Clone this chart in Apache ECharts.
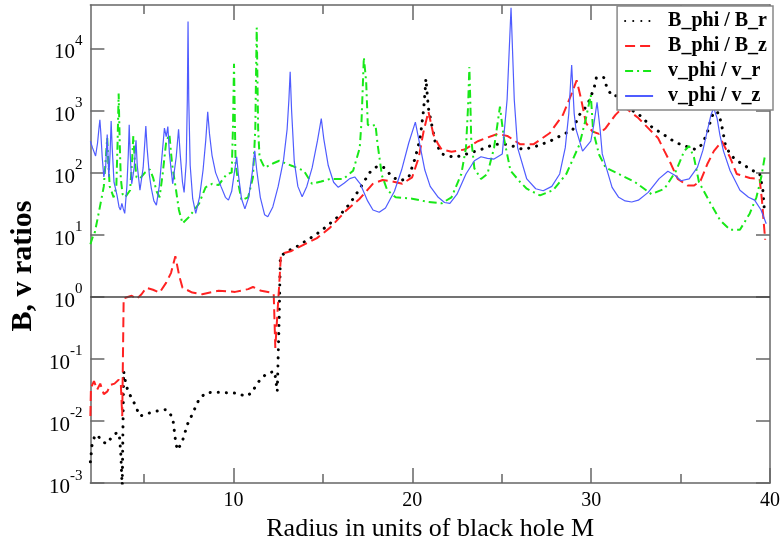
<!DOCTYPE html>
<html>
<head>
<meta charset="utf-8">
<script src="https://cdn.jsdelivr.net/npm/echarts@6/dist/echarts.min.js"></script>
<style>
  html, body { margin: 0; padding: 0; background: #fff; }
  #chart { width: 783px; height: 547px; }
</style>
</head>
<body>
<div id="chart"></div>
<script>
// Field ratios against radius (units of black hole M), log scale.
const seriesNames = ['B_phi / B_r', 'B_phi / B_z', 'v_phi / v_r', 'v_phi / v_z'];

const xMajorTicks = [10, 20, 30, 40];
const xMinorTicks = [5, 15, 25, 35];
const yDecades = [1e-3, 1e-2, 1e-1, 1, 10, 100, 1e3, 1e4];

// [radius, ratio]
const bPhiOverBr = [
  [2.0, 0.0022], [2.1, 0.0043], [2.25, 0.0058], [2.4, 0.006], [2.6, 0.0048], [2.9, 0.0043],
  [3.2, 0.0055], [3.5, 0.0066], [3.62, 0.0058], [3.7, 0.003], [3.78, 0.0008], [3.86, 0.063],
  [3.95, 0.045], [4.1, 0.03], [4.4, 0.021], [4.77, 0.012], [5.14, 0.013], [5.5, 0.014],
  [6.0, 0.015], [6.24, 0.0153], [6.45, 0.013], [6.6, 0.0114], [6.69, 0.007], [6.78, 0.0043],
  [6.88, 0.0034], [7.15, 0.0048], [7.43, 0.0089], [7.7, 0.0129], [8.07, 0.0222], [8.44, 0.0283],
  [8.8, 0.029], [9.3, 0.029], [9.72, 0.0283], [10.27, 0.028], [10.64, 0.025], [11.0, 0.028],
  [11.28, 0.038], [11.55, 0.049], [11.92, 0.059], [12.3, 0.063], [12.45, 0.03], [12.5, 0.028],
  [12.56, 0.5], [12.62, 4.5], [13.02, 5.4], [13.57, 6.5], [14.3, 8.8], [14.9, 11.5],
  [15.4, 15.2], [15.95, 20.6], [16.5, 31.5], [17.06, 55], [17.61, 100], [18.06, 128],
  [18.43, 120], [18.89, 84], [19.34, 74], [19.8, 84], [20.17, 175], [20.44, 360],
  [20.63, 1020], [20.72, 2120], [20.76, 3250], [20.9, 1090], [21.27, 320], [21.64, 200],
  [22.37, 175], [23.1, 202], [23.84, 235], [24.57, 285], [25.31, 285], [26.22, 235],
  [26.96, 268], [27.69, 320], [28.42, 410], [28.97, 490], [29.34, 850], [29.79, 1220],
  [30.16, 2270], [30.29, 3380], [30.5, 3500], [30.71, 3380], [30.89, 2300], [31.17, 1700],
  [31.54, 1750], [31.9, 1300], [32.3, 1000], [32.73, 830], [33.46, 520], [33.92, 435],
  [34.47, 340], [34.93, 290], [35.39, 260], [35.85, 235], [36.21, 285], [36.49, 435],
  [36.67, 670], [36.86, 960], [37.13, 910], [37.31, 557], [37.5, 285], [37.77, 196],
  [38.14, 155], [38.51, 136], [38.87, 113], [39.42, 97], [39.6, 52], [39.7, 22]
];

const bPhiOverBz = [
  [2.0, 0.012], [2.03, 0.034], [2.2, 0.044], [2.38, 0.032], [2.55, 0.04], [2.75, 0.027],
  [2.95, 0.03], [3.12, 0.038], [3.35, 0.04], [3.58, 0.046], [3.7, 0.04], [3.78, 0.012],
  [3.86, 0.95], [3.94, 1.01], [4.31, 1.04], [4.58, 0.92], [4.86, 1.1], [5.13, 1.4],
  [5.5, 1.3], [5.87, 1.17], [6.24, 1.69], [6.51, 2.43], [6.75, 4.5], [6.97, 2.16],
  [7.15, 1.4], [7.7, 1.17], [8.25, 1.1], [9.17, 1.25], [10.09, 1.2], [10.82, 1.33],
  [11.09, 1.44], [11.55, 1.25], [12.1, 1.17], [12.25, 1.1], [12.34, 0.15], [12.45, 0.5],
  [12.56, 1.6], [12.65, 4.5], [12.84, 5.06], [13.2, 5.4], [13.94, 6.9], [14.67, 8.8],
  [15.4, 13], [16.32, 24.8], [17.06, 38], [17.79, 66], [18.34, 76], [18.89, 72],
  [19.44, 66], [19.99, 84], [20.36, 175], [20.63, 460], [20.9, 960], [21.18, 410],
  [21.45, 285], [21.64, 235], [22.19, 217], [22.92, 235], [23.66, 320], [24.76, 420],
  [25.31, 390], [26.04, 285], [26.77, 285], [27.69, 435], [28.42, 850], [28.88, 1780],
  [29.19, 3070], [29.43, 1570], [29.71, 630], [30.07, 460], [30.44, 420], [30.81, 520],
  [31.36, 850], [31.81, 1150], [32.1, 1000], [32.64, 755], [33.19, 520], [33.74, 360],
  [34.1, 222], [34.47, 136], [34.84, 79], [35.39, 62], [35.76, 62], [36.12, 74],
  [36.49, 136], [36.86, 222], [37.31, 321], [37.77, 175], [38.14, 95], [38.87, 82],
  [39.42, 79], [39.55, 36], [39.64, 17], [39.73, 8.3]
];

const vPhiOverVr = [
  [2.0, 7], [2.12, 9], [2.25, 11], [2.4, 18], [2.57, 32], [2.75, 60], [2.88, 200],
  [2.94, 360], [3.0, 150], [3.08, 60], [3.3, 40], [3.45, 60], [3.52, 300], [3.58, 1880],
  [3.64, 300], [3.7, 80], [3.8, 45], [3.94, 40], [4.22, 52], [4.33, 150], [4.4, 390],
  [4.48, 160], [4.58, 84], [4.77, 80], [5.05, 100], [5.32, 113], [5.5, 84], [5.7, 50],
  [5.87, 40], [6.05, 100], [6.24, 320], [6.42, 410], [6.5, 220], [6.57, 136], [6.79, 52],
  [6.95, 25], [7.15, 15.2], [7.52, 19.4], [8.07, 31.5], [8.44, 58], [8.8, 66], [9.17, 63],
  [9.63, 95], [9.9, 100], [9.97, 500], [10.03, 5650], [10.08, 600], [10.12, 136],
  [10.3, 60], [10.45, 36], [10.82, 40], [11.09, 84], [11.22, 500], [11.3, 21600],
  [11.38, 500], [11.46, 175], [11.74, 120], [12.2, 140], [12.56, 155], [13.29, 128],
  [13.94, 107], [14.39, 66], [14.9, 72], [15.4, 79], [16.14, 79], [16.69, 107],
  [17.06, 250], [17.16, 670], [17.29, 7200], [17.42, 2900], [17.51, 590], [17.7, 560],
  [17.94, 590], [18.05, 300], [18.3, 90], [18.6, 52], [19.07, 40], [19.99, 38],
  [20.9, 33.6], [21.64, 32], [22.19, 40], [22.74, 95], [23.0, 250], [23.12, 1200],
  [23.19, 5000], [23.26, 900], [23.29, 360], [23.47, 117], [23.84, 79], [24.2, 95],
  [24.57, 250], [24.9, 1150], [25.12, 360], [25.49, 107], [26.04, 70], [26.4, 55],
  [27.14, 43], [27.87, 52], [28.61, 95], [29.34, 280], [29.71, 750], [29.98, 1780],
  [30.11, 470], [30.44, 196], [30.81, 120], [31.54, 95], [32.46, 70], [33.37, 45],
  [34.1, 55], [34.75, 107], [35.2, 222], [35.48, 268], [35.75, 175], [36.03, 70],
  [36.67, 32], [37.22, 17], [37.77, 12], [38.32, 12], [38.87, 22], [39.24, 40],
  [39.51, 84], [39.7, 175]
];

const vPhiOverVz = [
  [2.0, 320], [2.12, 250], [2.29, 185], [2.4, 300], [2.48, 520], [2.53, 710], [2.58, 450],
  [2.66, 180], [2.75, 85], [2.85, 120], [2.94, 410], [2.98, 200], [3.03, 85], [3.1, 200],
  [3.16, 680], [3.22, 250], [3.32, 70], [3.49, 43], [3.6, 28], [3.68, 25], [3.76, 32],
  [3.84, 26], [3.92, 22], [4.04, 60], [4.12, 200], [4.17, 590], [4.22, 220], [4.31, 66],
  [4.45, 120], [4.55, 330], [4.62, 130], [4.77, 52], [4.95, 120], [5.05, 330], [5.1, 560],
  [5.17, 250], [5.3, 90], [5.41, 55], [5.55, 35], [5.69, 30], [5.85, 60], [6.0, 180],
  [6.14, 520], [6.24, 380], [6.33, 550], [6.42, 200], [6.6, 66], [6.8, 180], [6.93, 500],
  [7.02, 200], [7.15, 70], [7.24, 48], [7.36, 150], [7.42, 1500], [7.46, 27000],
  [7.5, 1500], [7.58, 130], [7.72, 38], [7.89, 22], [8.1, 40], [8.3, 110], [8.45, 330],
  [8.56, 950], [8.66, 420], [8.8, 190], [9.0, 100], [9.3, 60], [9.55, 40], [9.72, 36],
  [9.9, 50], [10.05, 100], [10.18, 180], [10.28, 90], [10.45, 38], [10.64, 26],
  [10.85, 40], [11.05, 100], [11.19, 225], [11.3, 110], [11.5, 40], [11.74, 21],
  [11.92, 19.5], [12.2, 28], [12.5, 60], [12.8, 160], [13.0, 500], [13.1, 1500],
  [13.17, 4200], [13.25, 1000], [13.4, 150], [13.6, 60], [13.84, 41], [14.1, 60],
  [14.4, 120], [14.7, 330], [14.91, 740], [15.05, 350], [15.3, 130], [15.6, 70],
  [15.86, 58], [16.2, 68], [16.5, 80], [16.78, 85], [17.1, 65], [17.5, 35], [17.8, 25],
  [18.15, 23], [18.5, 27], [19.0, 50], [19.4, 110], [19.8, 300], [20.17, 650], [20.4, 300],
  [20.7, 110], [21.0, 60], [21.45, 40], [21.8, 33], [22.1, 32], [22.5, 45], [23.0, 95],
  [23.47, 155], [23.84, 180], [24.2, 170], [24.57, 165], [25.03, 200], [25.3, 1500],
  [25.52, 45000], [25.7, 1500], [25.89, 250], [26.4, 79], [26.9, 55], [27.32, 51],
  [27.8, 60], [28.24, 95], [28.55, 250], [28.75, 900], [28.91, 5400], [29.05, 900],
  [29.15, 500], [29.52, 222], [29.98, 320], [30.15, 600], [30.33, 1350], [30.5, 500],
  [30.62, 200], [31.17, 58], [31.54, 40], [31.9, 35], [32.27, 33.6], [32.64, 36],
  [33.19, 48], [33.8, 80], [34.29, 105], [34.7, 90], [35.02, 74], [35.48, 79],
  [35.94, 121], [36.25, 230], [36.49, 465], [36.7, 850], [36.85, 1100], [37.04, 755],
  [37.2, 400], [37.4, 222], [37.77, 107], [38.32, 52], [38.8, 40], [39.14, 36],
  [39.5, 25], [39.79, 15]
];

const SERIF = "'Liberation Serif', 'Times New Roman', serif";
const FRAME = '#666666';

const chart = echarts.init(document.getElementById('chart'), null, { renderer: 'canvas' });

function xAxisDef(position, ticks, len, showLine) {
  return {
    type: 'value', position: position, min: 2, max: 40,
    axisLine: { show: showLine, onZero: false, lineStyle: { color: FRAME, width: 1.5 } },
    axisTick: { show: true, inside: true, length: len, customValues: ticks,
                lineStyle: { color: FRAME, width: 1.5 } },
    axisLabel: { show: false },
    splitLine: { show: false }
  };
}

const bottomMain = xAxisDef('bottom', xMajorTicks, 15, true);
bottomMain.axisLabel = {
  show: true, customValues: xMajorTicks, margin: 8,
  fontFamily: SERIF, fontSize: 20, color: '#000'
};
bottomMain.name = 'Radius in units of black hole M';
bottomMain.nameLocation = 'middle';
bottomMain.nameGap = 26;
bottomMain.nameTextStyle = { fontFamily: SERIF, fontSize: 26, color: '#000' };

function lineSeries(name, data, color, width, type, cap) {
  return {
    name: name, type: 'line', data: data, xAxisIndex: 0, yAxisIndex: 0,
    symbol: 'none', smooth: false, clip: true, animation: false,
    lineStyle: { color: color, width: width, type: type, cap: cap || 'butt' },
    itemStyle: { color: color }
  };
}

const dotted = lineSeries(seriesNames[0], bPhiOverBr, '#000000', 3, [0.1, 8], 'round');
dotted.markLine = {
  silent: true, symbol: 'none', animation: false,
  label: { show: false },
  lineStyle: { color: '#444444', width: 1.5, type: 'solid' },
  data: [{ yAxis: 1 }]
};

const option = {
  backgroundColor: '#ffffff',
  animation: false,
  grid: { left: 83, right: 9, top: 5, bottom: 58, containLabel: false },
  legend: {
    orient: 'vertical', right: 10, top: 6,
    padding: [4, 6, 3, 7], itemGap: 3, itemWidth: 28, itemHeight: 14,
    backgroundColor: '#ffffff', borderColor: '#888888', borderWidth: 1.5, borderRadius: 0,
    itemStyle: { opacity: 0 },
    textStyle: { fontFamily: SERIF, fontSize: 20, fontWeight: 'bold', color: '#000',
                 lineHeight: 22, padding: [0, 0, 0, 10] },
    data: seriesNames
  },
  xAxis: [
    bottomMain,
    xAxisDef('top', xMajorTicks, 15, true),
    xAxisDef('top', xMinorTicks, 9, false),     // placed on the free bottom side
    xAxisDef('bottom', xMinorTicks, 9, false)   // placed on the free top side
  ],
  yAxis: [
    {
      type: 'log', logBase: 10, min: 1e-3, max: 5e4, position: 'left',
      name: 'B, v ratios', nameLocation: 'middle', nameGap: 52, nameRotate: 90,
      nameTextStyle: { fontFamily: SERIF, fontSize: 30, fontWeight: 'bold', color: '#000',
                       padding: [0, 44, 0, 0] },
      axisLine: { show: true, onZero: false, lineStyle: { color: FRAME, width: 1.5 } },
      axisTick: { show: true, inside: true, length: 14, customValues: yDecades,
                  lineStyle: { color: FRAME, width: 1.5 } },
      axisLabel: {
        show: true, customValues: yDecades, margin: 8,
        formatter: function (v) {
          const e = Math.round(Math.log10(v));
          return '{b|10}{e|' + e + '}';
        },
        rich: {
          b: { fontFamily: SERIF, fontSize: 21, color: '#000', verticalAlign: 'bottom', lineHeight: 30 },
          e: { fontFamily: SERIF, fontSize: 15, color: '#000', verticalAlign: 'top', lineHeight: 30 }
        }
      },
      splitLine: { show: false }
    },
    {
      type: 'log', logBase: 10, min: 1e-3, max: 5e4, position: 'right',
      axisLine: { show: true, onZero: false, lineStyle: { color: FRAME, width: 1.5 } },
      axisTick: { show: true, inside: true, length: 14, customValues: yDecades,
                  lineStyle: { color: FRAME, width: 1.5 } },
      axisLabel: { show: false },
      splitLine: { show: false }
    }
  ],
  series: [
    dotted,
    lineSeries(seriesNames[1], bPhiOverBz, '#ff2222', 2, [10, 5]),
    lineSeries(seriesNames[2], vPhiOverVr, '#18e818', 2, [8, 4, 2, 4]),
    lineSeries(seriesNames[3], vPhiOverVz, '#4f5cff', 1.2, 'solid')
  ]
};

chart.setOption(option);
</script>
</body>
</html>
